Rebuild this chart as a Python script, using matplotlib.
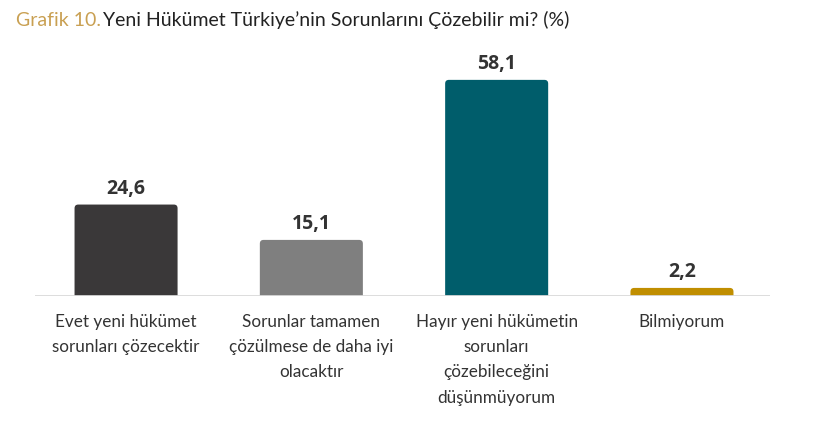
import matplotlib.pyplot as plt
from matplotlib.patches import FancyBboxPatch

categories = ["Evet yeni hükümet\nsorunları çözecektir",
              "Sorunlar tamamen\nçözülmese de daha iyi\nolacaktır",
              "Hayır yeni hükümetin\nsorunları\nçözebileceğini\ndüşünmüyorum",
              "Bilmiyorum"]
values = [24.6, 15.1, 58.1, 2.2]
value_labels = ["24,6", "15,1", "58,1", "2,2"]
colors = ["#3a3839", "#7f7f7f", "#005d6b", "#c08e00"]

plt.rcParams['font.family'] = ['Lato', 'DejaVu Sans']

fig = plt.figure(figsize=(8.2, 4.35), dpi=100)
ax = fig.add_axes([0.043, 0.317, 0.896, 0.545])

x = range(len(values))
bars = ax.bar(x, values, width=0.556, color=colors, zorder=2)
ax.set_xlim(-0.49, 3.475)
ax.set_ylim(0, 63.7)

# swap plain bars for ones with slightly rounded top corners
for b in bars:
    b.set_visible(False)
    rb = FancyBboxPatch((b.get_x(), -1.5), b.get_width(), b.get_height() + 1.5,
                        boxstyle="round,pad=0,rounding_size=0.02", mutation_aspect=49.8,
                        facecolor=b.get_facecolor(), edgecolor="none", zorder=2)
    ax.add_patch(rb)

ax.axhline(0, color="#d9d9d9", lw=2, zorder=3)

for b, lab in zip(bars, value_labels):
    ax.annotate(lab, (b.get_x() + b.get_width() / 2, b.get_height()),
                xytext=(0, 5), textcoords="offset points", ha="center", va="bottom",
                fontsize=14, fontweight="bold", color="#333333",
                family=["Open Sans", "DejaVu Sans"])

ax.set_xticks(list(x))
ax.set_xticklabels(categories, fontsize=12.3, color="#333333", linespacing=1.72)
ax.tick_params(axis="x", length=0, pad=12)
ax.set_yticks([])
for s in ax.spines.values():
    s.set_visible(False)

fig.text(0.0195, 0.953, "Grafik 10.", color="#c9a052", fontsize=14, va="center")
fig.text(0.1256, 0.953, "Yeni Hükümet Türkiye’nin Sorunlarını Çözebilir mi? (%)",
         color="#222222", fontsize=14, va="center")

fig.savefig("out.png", dpi=100)
